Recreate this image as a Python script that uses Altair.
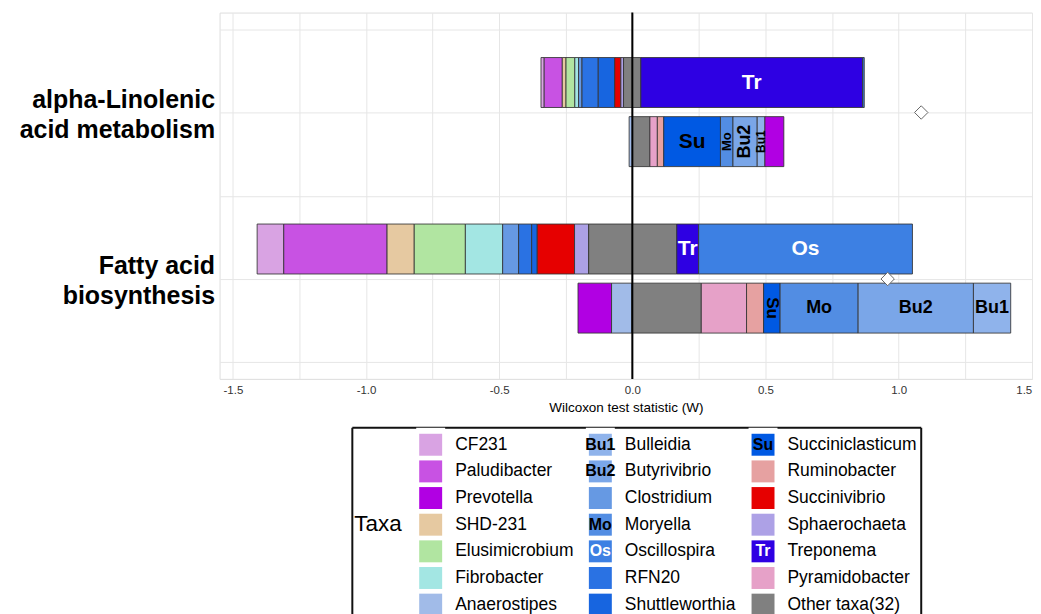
import altair as alt
import pandas as pd

# ---------------- data ----------------
taxa = ["CF231", "Paludibacter", "Prevotella", "SHD-231", "Elusimicrobium", "Fibrobacter", "Anaerostipes",
        "Bulleidia", "Butyrivibrio", "Clostridium", "Moryella", "Oscillospira", "RFN20", "Shuttleworthia",
        "Succiniclasticum", "Ruminobacter", "Succinivibrio", "Sphaerochaeta", "Treponema", "Pyramidobacter",
        "Other taxa(32)"]
taxa_colors = ["#D9A3E3", "#C852E3", "#B100E3", "#E6C9A1", "#B1E5A1", "#A3E6E3", "#A1BBE8",
               "#8FB3EB", "#7AA6E8", "#6699E3", "#528DE3", "#3D80E3", "#2A72E3", "#1765E0",
               "#0059E3", "#E6A1A1", "#E60000", "#ADA1E6", "#2E00E3", "#E6A1C8",
               "#808080"]
badge_taxa = ["Bulleidia", "Butyrivibrio", "Moryella", "Oscillospira", "Succiniclasticum", "Treponema"]
badge_text = ["Bu1", "Bu2", "Mo", "Os", "Su", "Tr"]
white_badges = ["Oscillospira", "Treponema"]

pathway_lines = [["alpha-Linolenic", "acid metabolism"], ["Fatty acid", "biosynthesis"]]

# four stacked bars: (pathway position, slot 0 = upper, 1 = lower)
bar_pathway = [1, 1, 2, 2]
bar_slot = [0, 1, 0, 1]
bar_starts = [-0.343, -0.012, -1.409, -0.204]
bar_taxa = [
    ["CF231", "Paludibacter", "SHD-231", "Elusimicrobium", "Fibrobacter", "Clostridium", "RFN20",
     "Shuttleworthia", "Succinivibrio", "Sphaerochaeta", "Other taxa(32)", "Treponema", "Oscillospira"],
    ["Anaerostipes", "Other taxa(32)", "Pyramidobacter", "Ruminobacter", "Succiniclasticum", "Moryella",
     "Butyrivibrio", "Bulleidia", "Prevotella"],
    ["CF231", "Paludibacter", "SHD-231", "Elusimicrobium", "Fibrobacter", "Clostridium", "RFN20",
     "Shuttleworthia", "Succinivibrio", "Sphaerochaeta", "Other taxa(32)", "Treponema", "Oscillospira"],
    ["Prevotella", "Anaerostipes", "Other taxa(32)", "Pyramidobacter", "Ruminobacter", "Succiniclasticum",
     "Moryella", "Butyrivibrio", "Bulleidia"],
]
bar_widths = [
    [0.012, 0.068, 0.014, 0.033, 0.014, 0.013, 0.061, 0.062, 0.023, 0.010, 0.065, 0.833, 0.006],
    [0.013, 0.065, 0.028, 0.024, 0.213, 0.047, 0.091, 0.029, 0.071],
    [0.100, 0.388, 0.102, 0.192, 0.140, 0.060, 0.049, 0.021, 0.140, 0.053, 0.331, 0.082, 0.803],
    [0.126, 0.077, 0.260, 0.170, 0.064, 0.062, 0.293, 0.433, 0.140],
]
wilcoxon_w = [1.085, 0.959]

x_ticks = [-1.5, -1.25, -1.0, -0.75, -0.5, -0.25, 0.0, 0.25, 0.5, 0.75, 1.0, 1.25, 1.5]
y_ticks = [0.5, 1.0, 1.5, 2.0, 2.5]

# ---------------- styles / layout ----------------
FONT = "Liberation Sans"
PLOT_W, PLOT_H = 814, 367
SLOT_OFFSET = [-0.18, 0.175]
HALF = 0.15
# (bar index, taxon) -> (angle, font size) for in-bar labels
label_style = {
    (0, "Treponema"): (0, 21),
    (1, "Succiniclasticum"): (0, 21),
    (1, "Moryella"): (270, 13),
    (1, "Butyrivibrio"): (270, 18),
    (1, "Bulleidia"): (270, 12),
    (2, "Treponema"): (0, 21),
    (2, "Oscillospira"): (0, 21),
    (3, "Succiniclasticum"): (90, 17),
    (3, "Moryella"): (0, 18),
    (3, "Butyrivibrio"): (0, 18),
    (3, "Bulleidia"): (0, 18),
}
badge_of = dict(zip(badge_taxa, badge_text))

seg_rows = []
for b in range(4):
    x = bar_starts[b]
    yc = bar_pathway[b] + SLOT_OFFSET[bar_slot[b]]
    for t, w in zip(bar_taxa[b], bar_widths[b]):
        seg_rows.append(dict(bar=b, taxon=t, x0=x, x1=x + w, xm=x + w / 2,
                             y0=yc - HALF, y1=yc + HALF, ym=yc))
        x += w
seg_df = pd.DataFrame(seg_rows)

lab_rows = []
for (b, t), (ang, fs) in label_style.items():
    r = seg_df[(seg_df.bar == b) & (seg_df.taxon == t)].iloc[0]
    lab_rows.append(dict(xm=r.xm, ym=r.ym, label=badge_of[t], angle=ang, fs=fs,
                         tc="white" if t in white_badges else "black"))
lab_df = pd.DataFrame(lab_rows)

stat_df = pd.DataFrame({"w": wilcoxon_w, "pos": [1.0, 2.0]})
zero_df = pd.DataFrame({"x": [0.0]})

PX_PER_UNIT = 266.8
X_MIN = -1.550
xscale = alt.Scale(domain=[X_MIN, X_MIN + PLOT_W / PX_PER_UNIT], nice=False, zero=False)
yscale = alt.Scale(domain=[0.4, 2.6], reverse=True, nice=False, zero=False)

ylab_expr = "datum.value == 1 ? " + str(pathway_lines[0]) + " : datum.value == 2 ? " + str(pathway_lines[1]) + " : ''"
xlab_expr = ("datum.value % 0.5 != 0 ? '' : (datum.value < 0 ? '-' + format(-datum.value, '.1f') "
             ": format(datum.value, '.1f'))")

xaxis = alt.Axis(values=x_ticks, title="Wilcoxon test statistic (W)",
                 labelExpr=xlab_expr, ticks=False,
                 labelAlign={"condition": {"test": "datum.value == 1.5", "value": "right"}, "value": "center"},
                 domain=False, grid=True, gridColor="#E6E6E6", gridWidth=1,
                 labelFontSize=11.5, labelColor="#333333",
                 labelPadding=6, labelFlush=False, titleFontSize=13.5, titleFontWeight="normal",
                 titleColor="black", titlePadding=4, labelFont=FONT, titleFont=FONT)
yaxis = alt.Axis(values=y_ticks, title=None, labelExpr=ylab_expr, ticks=False,
                 domain=False, grid=True, gridColor="#E6E6E6", gridWidth=1,
                 labelFontSize=25, labelFontWeight="bold",
                 labelColor="black", labelLineHeight=30, labelPadding=5, labelLimit=0, labelOffset=-13,
                 minExtent=206, maxExtent=206, labelFont=FONT)

def X(f):
    return alt.X(f, scale=xscale, axis=xaxis)

def Y(f):
    return alt.Y(f, scale=yscale, axis=yaxis)

bars = alt.Chart(seg_df).mark_rect(stroke="#333333", strokeWidth=1, strokeOpacity=0.85).encode(
    x=X("x0:Q"), x2="x1:Q", y=Y("y0:Q"), y2="y1:Q",
    color=alt.Color("taxon:N", scale=alt.Scale(domain=taxa, range=taxa_colors), legend=None),
)
zero = alt.Chart(zero_df).mark_rule(color="black", strokeWidth=2).encode(x=X("x:Q"))
labels = alt.Chart(lab_df).mark_text(font=FONT, fontWeight="bold", baseline="middle", align="center").encode(
    x=X("xm:Q"), y=Y("ym:Q"), text="label:N",
    angle=alt.Angle("angle:Q", scale=None),
    size=alt.Size("fs:Q", scale=None),
    fill=alt.Fill("tc:N", scale=None),
)
diamonds = alt.Chart(stat_df).mark_point(shape="diamond", filled=True, fill="white", stroke="#666666",
                                         strokeWidth=1, size=180, opacity=1).encode(
    x=X("w:Q"), y=Y("pos:Q"))

main = alt.layer(bars, zero, labels, diamonds).properties(width=PLOT_W, height=PLOT_H)

# ---------------- manual legend ----------------
X0, Y0 = 219, 424          # page position of the legend panel origin
LEG_W, LEG_H = PLOT_W, 192
COL_SQ_X = [200, 370, 533]
ROW_TOP = 446 - Y0
ROW_STEP = 26.7
SQ_W, SQ_H = 23, 22
BOX_L, BOX_R, BOX_T = 352 - X0, 922 - X0, 429 - Y0

leg_rows = []
for i, t in enumerate(taxa):
    c, r = i // 7, i % 7
    sx = COL_SQ_X[c]
    cy = ROW_TOP + r * ROW_STEP
    leg_rows.append(dict(taxon=t, sx=sx, sx2=sx + SQ_W, sy=cy - SQ_H / 2, sy2=cy + SQ_H / 2,
                         kx=sx - 3, kx2=sx + SQ_W + 3, ky=cy - 17, ky2=cy + 16,
                         tx=sx + 36, bx=sx + SQ_W / 2, cy=cy,
                         badge=badge_of.get(t, ""),
                         bc="white" if t in white_badges else "black"))
leg_df = pd.DataFrame(leg_rows)

frame_df = pd.DataFrame({
    "x": [BOX_L, BOX_L, BOX_R], "x2": [BOX_R, BOX_L, BOX_R],
    "y": [BOX_T, BOX_T, BOX_T], "y2": [BOX_T, LEG_H, LEG_H]})

def PX(f):
    return alt.X(f, scale=None, axis=None)

def PY(f):
    return alt.Y(f, scale=None, axis=None)

frame = alt.Chart(frame_df).mark_rule(color="#111111", strokeWidth=2).encode(
    x=PX("x:Q"), x2="x2:Q", y=PY("y:Q"), y2="y2:Q")
keybg = alt.Chart(leg_df).mark_rect(fill="white").encode(
    x=PX("kx:Q"), x2="kx2:Q", y=PY("ky:Q"), y2="ky2:Q")
squares = alt.Chart(leg_df).mark_rect().encode(
    x=PX("sx:Q"), x2="sx2:Q", y=PY("sy:Q"), y2="sy2:Q",
    fill=alt.Fill("taxon:N", scale=alt.Scale(domain=taxa, range=taxa_colors), legend=None))
leg_text = alt.Chart(leg_df).mark_text(font=FONT, fontSize=17.5, align="left", baseline="middle",
                                       color="black").encode(
    x=PX("tx:Q"), y=PY("cy:Q"), text="taxon:N")
leg_badge = alt.Chart(leg_df[leg_df.badge != ""]).mark_text(font=FONT, fontSize=16, fontWeight="bold",
                                                             align="center", baseline="middle").encode(
    x=PX("bx:Q"), y=PY("cy:Q"), text="badge:N", fill=alt.Fill("bc:N", scale=None))
title_df = pd.DataFrame({"t": ["Taxa"], "x": [BOX_L + 2], "y": [525 - Y0]})
leg_title = alt.Chart(title_df).mark_text(font=FONT, fontSize=22.5, align="left", baseline="middle",
                                          color="black").encode(
    x=PX("x:Q"), y=PY("y:Q"), text="t:N")

legend = alt.layer(frame, keybg, squares, leg_text, leg_badge, leg_title).properties(
    width=LEG_W, height=LEG_H, view=alt.ViewBackground(stroke="transparent"))

chart = alt.vconcat(main, legend, spacing=7).resolve_scale(color="independent", fill="independent").properties(
    padding={"left": 5, "top": 2, "right": 0, "bottom": 0}
).configure_view(stroke="#444444", strokeWidth=1).configure(font=FONT)

chart.save("out.html", embed_options={"renderer": "svg", "actions": False})
